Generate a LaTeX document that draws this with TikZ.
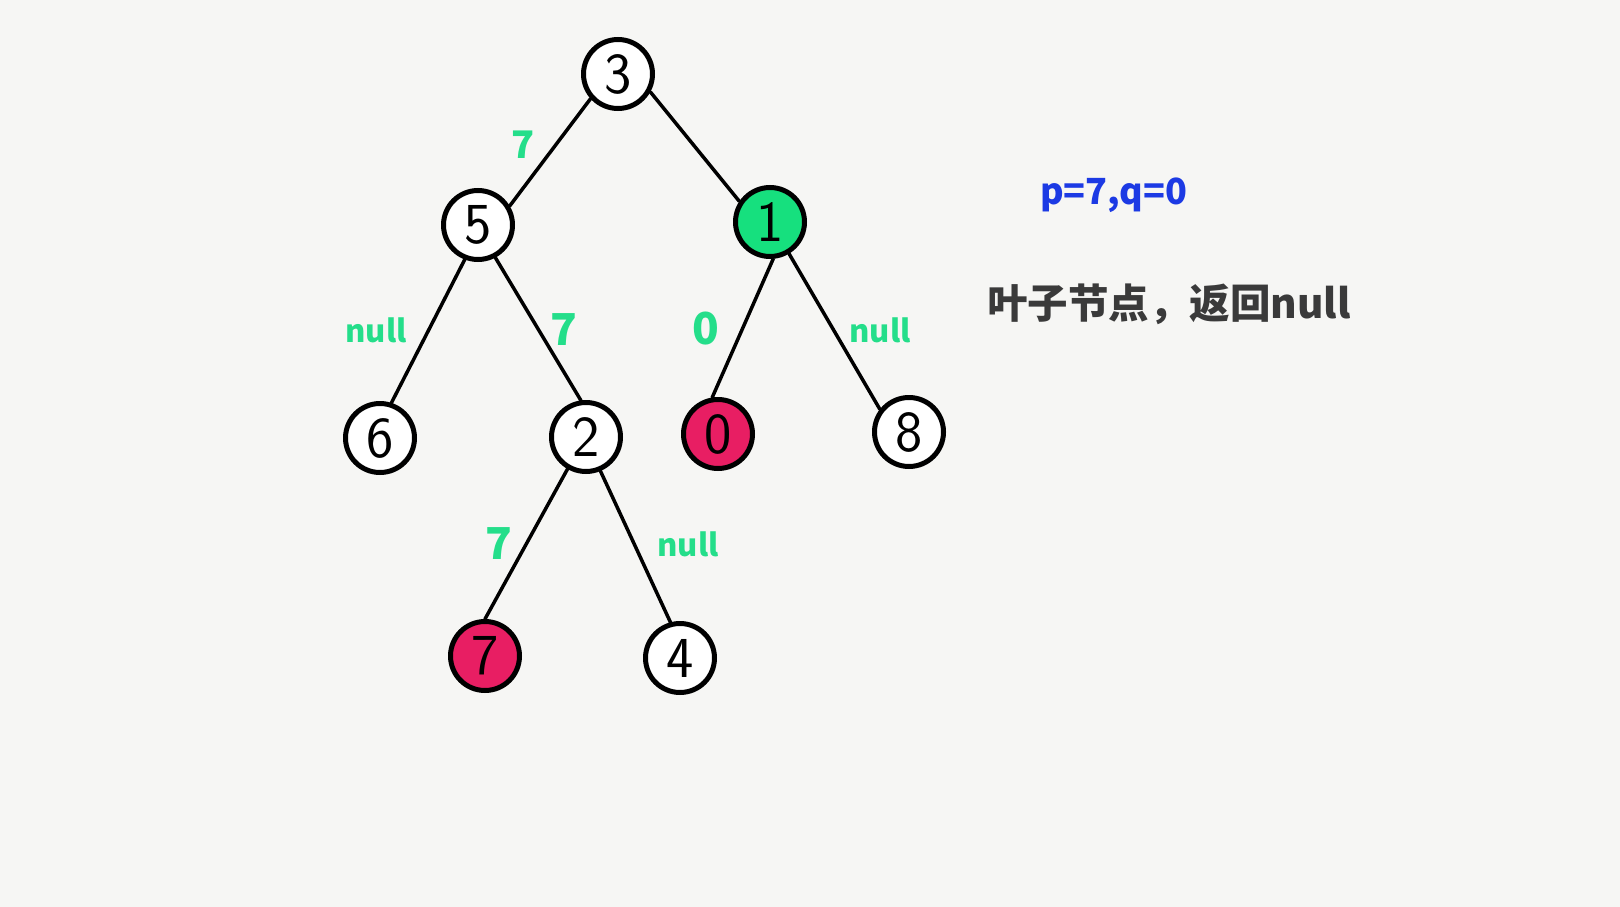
\documentclass[tikz,border=0pt]{standalone}
\usepackage{fontspec}
\newfontfamily\cjk{Noto Sans CJK SC}
\definecolor{paper}{RGB}{246,246,244}
\definecolor{mint}{RGB}{36,222,138}
\definecolor{greenfill}{RGB}{22,224,126}
\definecolor{redfill}{RGB}{232,30,99}
\definecolor{bluetext}{RGB}{28,58,228}
\definecolor{graytext}{RGB}{58,58,58}
\tikzset{
  tnode/.style={circle,draw=black,line width=5pt,minimum size=69pt,inner sep=0pt,fill=white,
    font=\sffamily\fontsize{58}{58}\selectfont},
  edge/.style={draw=black,line width=3.5pt,line cap=round},
  lbl/.style={text=mint,anchor=base,inner sep=0pt,font=\cjk\bfseries\fontsize{#1}{#1}\selectfont},
}
\begin{document}
\begin{tikzpicture}[x=1pt,y=-1pt]
\fill[paper] (0,0) rectangle (1620,907);
\useasboundingbox (0,0) rectangle (1620,907);
% nodes
\node[tnode] (n3) at (618,74) {3};
\node[tnode] (n5) at (478,225) {5};
\node[tnode,fill=greenfill] (n1) at (770,222) {1};
\node[tnode] (n6) at (380,438) {6};
\node[tnode] (n2) at (586,437) {2};
\node[tnode,fill=redfill] (n0) at (718,434) {0};
\node[tnode] (n8) at (909,432) {8};
\node[tnode,fill=redfill] (n7) at (485,656) {7};
\node[tnode] (n4) at (680,658) {4};
% edges
\draw[edge] (n3.222) -- (n5.31);
\draw[edge] (n3.331) -- (n1.146);
\draw[edge] (n5.249) -- (n6.72);
\draw[edge] (n5.298) -- (n2.98);
\draw[edge] (n1.275) -- (n0.99);
\draw[edge] (n1.301) -- (n8.142);
\draw[edge] (n2.240) -- (n7.90);
\draw[edge] (n2.293) -- (n4.105);
% edge labels
\node[lbl=38] (l35) at (523,158) {7};
\node[lbl=31] (l56) at (376,342) {null};
\node[lbl=44] (l52) at (564,345) {7};
\node[lbl=44] (l10) at (706,344) {0};
\node[lbl=31] (l18) at (880,342) {null};
\node[lbl=44] (l27) at (499,559) {7};
\node[lbl=31] (l24) at (688,556) {null};
% texts
\node[anchor=base west,inner sep=0pt,text=bluetext,font=\cjk\bfseries\fontsize{36}{36}\selectfont] (pq) at (1040,204) {p=7,q=0};
\node[anchor=base west,inner sep=0pt,text=graytext,font=\cjk\bfseries\fontsize{40.5}{40.5}\selectfont] (note) at (987,318) {叶子节点，返回null};
\end{tikzpicture}
\end{document}
